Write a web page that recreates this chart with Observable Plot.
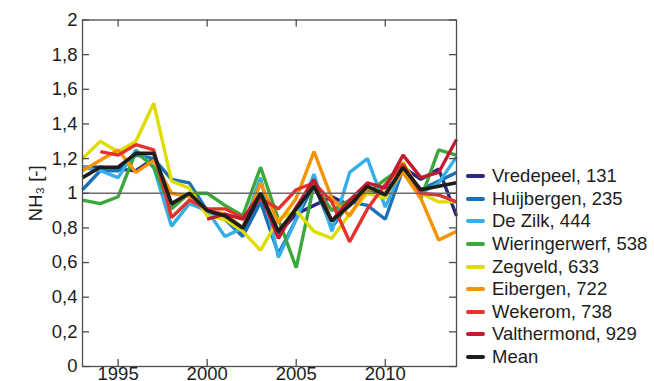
<!DOCTYPE html>
<html>
<head>
<meta charset="utf-8">
<script src="https://cdn.jsdelivr.net/npm/d3@7"></script>
<script src="https://cdn.jsdelivr.net/npm/@observablehq/plot@0.6"></script>
<style>
  body { margin: 0; background: #fff; }
  #chart { position: relative; width: 654px; height: 381px; font-family: "Liberation Sans", Arial, sans-serif; }
  #legend { position: absolute; left: 466px; top: 165px; }
  .row { display: flex; align-items: center; height: 22.6px; font-size: 18.5px; color: #1d1d1b; white-space: nowrap; }
  .sw { width: 19px; height: 4px; border-radius: 2px; margin-right: 7px; }
</style>
</head>
<body>
<div id="chart"><div id="legend"></div></div>
<script>
// Relative NH3 concentration per station (yearly value / long-term mean)
const years = [1993, 1994, 1995, 1996, 1997, 1998, 1999, 2000, 2001, 2002, 2003,
               2004, 2005, 2006, 2007, 2008, 2009, 2010, 2011, 2012, 2013, 2014];

const vredepeel     = [1.15, 1.15, 1.14, 1.13, 1.20, 0.93, 1.00, 0.90, 0.85, 0.77, 0.98, 0.77, 0.88, 0.93, 0.98, 0.93, 1.02, 1.00, 1.15, 1.08, 1.14, 0.87];
const huijbergen    = [1.02, 1.13, 1.13, 1.22, 1.20, 1.08, 1.06, 0.90, 0.85, 0.75, 0.95, 0.65, 0.85, 1.05, 0.80, 0.95, 0.93, 0.85, 1.14, 1.02, 1.07, 1.12];
const deZilk        = [1.15, 1.13, 1.09, 1.25, 1.15, 0.81, 0.94, 0.90, 0.75, 0.80, 1.09, 0.63, 0.85, 1.11, 0.78, 1.12, 1.20, 0.92, 1.15, 1.00, 1.06, 1.21];
const wieringerwerf = [0.96, 0.94, 0.98, 1.24, 1.15, 0.91, 1.00, 1.00, 0.93, 0.87, 1.15, 0.85, 0.57, 1.05, 0.90, 0.96, 1.00, 1.08, 1.15, 0.97, 1.25, 1.22];
const zegveld       = [1.20, 1.30, 1.24, 1.30, 1.52, 1.07, 1.03, 0.87, 0.85, 0.78, 0.67, 0.85, 0.90, 0.78, 0.74, 0.88, 1.00, 0.97, 1.18, 1.00, 0.95, 0.95];
const eibergen      = [1.13, 1.19, 1.25, 1.12, 1.19, 1.00, 0.98, 0.90, 0.88, 0.80, 1.06, 0.83, 0.97, 1.24, 0.97, 0.87, 1.03, 1.00, 1.12, 0.97, 0.73, 0.78];
const wekerom       = [null, 1.24, 1.22, 1.28, 1.25, 0.86, 0.96, 0.91, 0.91, 0.86, 0.97, 0.91, 1.02, 1.06, 0.95, 0.72, 0.91, 1.05, 1.17, 1.00, 0.99, 0.95];
const valthermond   = [null, null, null, null, null, null, null, 0.85, 0.88, 0.85, 1.00, 0.74, 0.92, 1.08, 0.84, 0.96, 1.06, 1.03, 1.22, 1.09, 1.12, 1.31];
const mean          = [1.09, 1.15, 1.15, 1.23, 1.23, 0.94, 1.00, 0.90, 0.87, 0.80, 1.00, 0.78, 0.91, 1.04, 0.84, 0.93, 1.04, 0.99, 1.15, 1.02, 1.04, 1.06];

const seriesNames  = ["Vredepeel, 131", "Huijbergen, 235", "De Zilk, 444", "Wieringerwerf, 538",
                      "Zegveld, 633", "Eibergen, 722", "Wekerom, 738", "Valthermond, 929", "Mean"];
const seriesValues = [vredepeel, huijbergen, deZilk, wieringerwerf, zegveld, eibergen, wekerom, valthermond, mean];
const seriesColors = ["#2b2a7f", "#1b71b8", "#36aee6", "#3aa83a", "#dedc00", "#f59300", "#e5322d", "#c21a30", "#1d1d1b"];

const xTicks = [1995, 2000, 2005, 2010];
const yTicks = [0, 0.2, 0.4, 0.6, 0.8, 1, 1.2, 1.4, 1.6, 1.8, 2];

// long-format rows, skipping years without a measurement
const rows = [];
seriesNames.forEach((name, s) => {
  seriesValues[s].forEach((v, i) => {
    if (v != null) rows.push({station: name, year: years[i], value: v});
  });
});

const W = 654, H = 381;
const mL = 82, mR = 198, mT = 19.5, mB = 15;
const innerW = W - mL - mR, innerH = H - mT - mB;
const tickLen = 7;
const axisColor = "#4d4d4d";
const decimalComma = d => String(d).replace(".", ",");

const chart = Plot.plot({
  width: W, height: H,
  marginLeft: mL, marginRight: mR, marginTop: mT, marginBottom: mB,
  style: {fontFamily: "'Liberation Sans', Arial, sans-serif", fontSize: "18.5px", color: "#1d1d1b", background: "#fff", overflow: "visible"},
  x: {domain: [1993, 2014]},
  y: {domain: [0, 2]},
  color: {domain: seriesNames, range: seriesColors},
  marks: [
    Plot.line(rows.filter(d => d.station !== "Mean"), {
      x: "year", y: "value", z: "station", stroke: "station",
      strokeWidth: 3.4, strokeLinejoin: "miter", strokeLinecap: "butt"
    }),
    Plot.ruleY([1], {stroke: "#6b6b6b", strokeWidth: 1.5}),
    Plot.line(rows.filter(d => d.station === "Mean"), {
      x: "year", y: "value", stroke: "station",
      strokeWidth: 3.6, strokeLinejoin: "miter", strokeLinecap: "butt"
    }),
    Plot.frame({stroke: axisColor, strokeWidth: 1.3}),
    // inward ticks on all four sides
    Plot.ruleY(yTicks, {y: d => d, insetRight: innerW - tickLen, stroke: axisColor, strokeWidth: 1.3}),
    Plot.ruleY(yTicks, {y: d => d, insetLeft: innerW - tickLen, stroke: axisColor, strokeWidth: 1.3}),
    Plot.ruleX(xTicks, {x: d => d, insetTop: innerH - tickLen, stroke: axisColor, strokeWidth: 1.3}),
    Plot.ruleX(xTicks, {x: d => d, insetBottom: innerH - tickLen, stroke: axisColor, strokeWidth: 1.3}),
    Plot.axisY({ticks: yTicks, tickSize: 0, tickPadding: 5, tickFormat: decimalComma,
                label: "NH₃ [-]", labelAnchor: "center", labelArrow: "none", labelOffset: 54}),
    Plot.axisX({ticks: xTicks, tickSize: 0, tickPadding: 0, tickFormat: d => String(d), label: null})
  ]
});

const host = document.getElementById("chart");
host.insertBefore(chart, host.firstChild);

// line-swatch legend to the right of the frame
const legend = document.getElementById("legend");
seriesNames.forEach((name, i) => {
  const row = document.createElement("div");
  row.className = "row";
  const sw = document.createElement("span");
  sw.className = "sw";
  sw.style.background = seriesColors[i];
  const label = document.createElement("span");
  label.textContent = name;
  row.appendChild(sw);
  row.appendChild(label);
  legend.appendChild(row);
});
</script>
</body>
</html>
